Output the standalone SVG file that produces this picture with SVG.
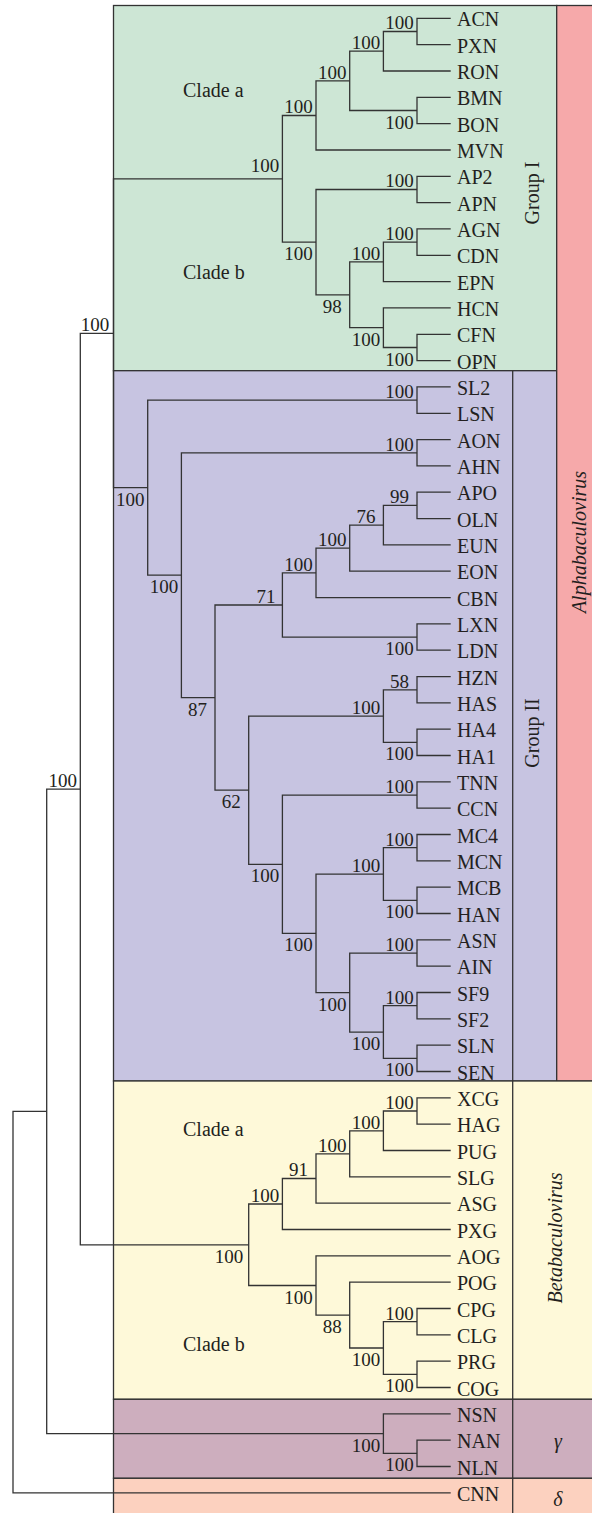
<svg xmlns="http://www.w3.org/2000/svg" width="592" height="1513" viewBox="0 0 592 1513">
<style>
.ln{fill:none;stroke:#333;stroke-width:1.3}
.box{stroke:#333;stroke-width:1.3}
.lf{font-family:"Liberation Serif","Times New Roman",serif;font-size:20px;fill:#231f20}
.bs{font-family:"Liberation Serif","Times New Roman",serif;font-size:19px;fill:#231f20;text-anchor:middle}
.grp{font-family:"Liberation Serif","Times New Roman",serif;font-size:20px;fill:#231f20;text-anchor:middle}
.it{font-style:italic}
</style>
<rect width="592" height="1513" fill="#ffffff"/>
<g id="regions">
<rect id="group1-box" class="box" x="113.5" y="5.5" width="443.2" height="365.2" fill="#cde6d5"/>
<rect id="group2-box" class="box" x="113.5" y="370.7" width="443.2" height="710.3" fill="#c7c4e1"/>
<rect id="alpha-box" class="box" x="556.7" y="5.5" width="40" height="1075.5" fill="#f6a9aa"/>
<rect id="beta-box" class="box" x="113.5" y="1081" width="483" height="318.3" fill="#fef9d9"/>
<rect id="gamma-box" class="box" x="113.5" y="1399.3" width="483" height="79" fill="#cdaebe"/>
<rect id="delta-box" class="box" x="113.5" y="1478.3" width="483" height="40" fill="#fcd1bf"/>
<path class="ln" d="M512.7 370.7 V1513"/>
</g>
<g id="region-labels">
<text class="lf" x="183" y="97">Clade a</text>
<text class="lf" x="183" y="279">Clade b</text>
<text class="lf" x="183" y="1136">Clade a</text>
<text class="lf" x="183" y="1351">Clade b</text>
<text class="grp" transform="translate(539,193) rotate(-90)">Group I</text>
<text class="grp" transform="translate(539,733) rotate(-90)">Group II</text>
<text class="grp it" transform="translate(586,542) rotate(-90)">Alphabaculovirus</text>
<text class="grp it" transform="translate(561.5,1238) rotate(-90)">Betabaculovirus</text>
<text class="grp it" x="558" y="1448">γ</text>
<text class="grp it" x="558" y="1506">δ</text>
</g>
<g id="connectors">
<path class="ln" d="M450.7 18.3 H417 V44.6 H450.7"/>
<path class="ln" d="M417 31.5 H383.4 V71 H450.7"/>
<path class="ln" d="M450.7 97.3 H417 V123.6 H450.7"/>
<path class="ln" d="M383.4 51.2 H349.7 V110.5 H417"/>
<path class="ln" d="M349.7 80.9 H316 V150 H450.7"/>
<path class="ln" d="M450.7 176.3 H417 V202.6 H450.7"/>
<path class="ln" d="M450.7 228.9 H417 V255.3 H450.7"/>
<path class="ln" d="M417 242.1 H383.4 V281.6 H450.7"/>
<path class="ln" d="M450.7 334.3 H417 V360.6 H450.7"/>
<path class="ln" d="M450.7 307.9 H383.4 V347.5 H417"/>
<path class="ln" d="M383.4 261.9 H349.7 V327.7 H383.4"/>
<path class="ln" d="M417 189.5 H316 V294.8 H349.7"/>
<path class="ln" d="M316 115.5 H282.4 V242.2 H316"/>
<path class="ln" d="M282.4 178.9 H113.5 V487.7 H147.7"/>
<path class="ln" d="M450.7 386.9 H417 V413.3 H450.7"/>
<path class="ln" d="M450.7 439.6 H417 V465.9 H450.7"/>
<path class="ln" d="M450.7 492.2 H417 V518.6 H450.7"/>
<path class="ln" d="M417 505.4 H383.4 V544.9 H450.7"/>
<path class="ln" d="M383.4 525.2 H349.7 V571.2 H450.7"/>
<path class="ln" d="M349.7 548.2 H316 V597.6 H450.7"/>
<path class="ln" d="M450.7 623.9 H417 V650.2 H450.7"/>
<path class="ln" d="M316 572.9 H282.4 V637.1 H417"/>
<path class="ln" d="M450.7 676.6 H417 V702.9 H450.7"/>
<path class="ln" d="M450.7 729.2 H417 V755.5 H450.7"/>
<path class="ln" d="M417 689.8 H383.4 V742.4 H417"/>
<path class="ln" d="M450.7 781.9 H417 V808.2 H450.7"/>
<path class="ln" d="M450.7 834.5 H417 V860.9 H450.7"/>
<path class="ln" d="M450.7 887.2 H417 V913.5 H450.7"/>
<path class="ln" d="M417 847.7 H383.4 V900.4 H417"/>
<path class="ln" d="M450.7 939.9 H417 V966.2 H450.7"/>
<path class="ln" d="M450.7 992.5 H417 V1018.8 H450.7"/>
<path class="ln" d="M450.7 1045.2 H417 V1071.5 H450.7"/>
<path class="ln" d="M417 1005.7 H383.4 V1058.4 H417"/>
<path class="ln" d="M417 953.1 H349.7 V1032.1 H383.4"/>
<path class="ln" d="M383.4 874.1 H316 V992.6 H349.7"/>
<path class="ln" d="M417 795.1 H282.4 V933.4 H316"/>
<path class="ln" d="M383.4 716.1 H248.7 V864.3 H282.4"/>
<path class="ln" d="M282.4 605 H215 V790.2 H248.7"/>
<path class="ln" d="M417 452.8 H181.4 V697.6 H215"/>
<path class="ln" d="M417 400.1 H147.7 V575.2 H181.4"/>
<path class="ln" d="M113.5 333.3 H80.3 V1244.8 H248.7"/>
<path class="ln" d="M450.7 1097.8 H417 V1124.2 H450.7"/>
<path class="ln" d="M417 1111 H383.4 V1150.5 H450.7"/>
<path class="ln" d="M383.4 1130.8 H349.7 V1176.8 H450.7"/>
<path class="ln" d="M349.7 1153.8 H316 V1203.1 H450.7"/>
<path class="ln" d="M316 1178.5 H282.4 V1229.5 H450.7"/>
<path class="ln" d="M450.7 1308.5 H417 V1334.8 H450.7"/>
<path class="ln" d="M450.7 1361.1 H417 V1387.5 H450.7"/>
<path class="ln" d="M417 1321.7 H383.4 V1374.3 H417"/>
<path class="ln" d="M450.7 1282.1 H349.7 V1348 H383.4"/>
<path class="ln" d="M450.7 1255.8 H316 V1315.1 H349.7"/>
<path class="ln" d="M282.4 1204 H248.7 V1285.5 H316"/>
<path class="ln" d="M450.7 1440.1 H417 V1466.5 H450.7"/>
<path class="ln" d="M450.7 1413.8 H383.4 V1453.3 H417"/>
<path class="ln" d="M80.3 789.1 H46.7 V1433.6 H383.4"/>
<path class="ln" d="M46.7 1111.4 H13 V1492.8 H450.7"/>
</g>
<g id="support-values">
<text class="bs" x="399.5" y="29.3">100</text>
<text class="bs" x="365.9" y="49">100</text>
<text class="bs" x="399.5" y="128.5">100</text>
<text class="bs" x="332.2" y="78.7">100</text>
<text class="bs" x="298.5" y="113.3">100</text>
<text class="bs" x="399.5" y="187.3">100</text>
<text class="bs" x="399.5" y="239.9">100</text>
<text class="bs" x="365.9" y="259.7">100</text>
<text class="bs" x="399.5" y="365.5">100</text>
<text class="bs" x="365.9" y="345.7">100</text>
<text class="bs" x="332.2" y="312.8">98</text>
<text class="bs" x="298.5" y="260.2">100</text>
<text class="bs" x="264.9" y="172">100</text>
<text class="bs" x="95" y="331">100</text>
<text class="bs" x="399.5" y="397.9">100</text>
<text class="bs" x="399.5" y="450.6">100</text>
<text class="bs" x="399.5" y="503.2">99</text>
<text class="bs" x="365.9" y="523">76</text>
<text class="bs" x="332.2" y="546">100</text>
<text class="bs" x="298.5" y="570.7">100</text>
<text class="bs" x="399.5" y="655.1">100</text>
<text class="bs" x="266" y="602.8">71</text>
<text class="bs" x="399.5" y="687.6">58</text>
<text class="bs" x="399.5" y="760.4">100</text>
<text class="bs" x="365.9" y="713.9">100</text>
<text class="bs" x="399.5" y="792.9">100</text>
<text class="bs" x="399.5" y="845.5">100</text>
<text class="bs" x="399.5" y="918.4">100</text>
<text class="bs" x="365.9" y="871.9">100</text>
<text class="bs" x="399.5" y="950.9">100</text>
<text class="bs" x="399.5" y="1003.5">100</text>
<text class="bs" x="399.5" y="1076.4">100</text>
<text class="bs" x="365.9" y="1050.1">100</text>
<text class="bs" x="332.2" y="1010.6">100</text>
<text class="bs" x="298.5" y="951.4">100</text>
<text class="bs" x="264.9" y="882.3">100</text>
<text class="bs" x="231.2" y="808.2">62</text>
<text class="bs" x="197.5" y="715.6">87</text>
<text class="bs" x="163.9" y="593.2">100</text>
<text class="bs" x="130.2" y="505.7">100</text>
<text class="bs" x="62.8" y="786.9">100</text>
<text class="bs" x="399.5" y="1108.8">100</text>
<text class="bs" x="365.9" y="1128.6">100</text>
<text class="bs" x="332.2" y="1151.6">100</text>
<text class="bs" x="298.5" y="1176.3">91</text>
<text class="bs" x="264.9" y="1201.8">100</text>
<text class="bs" x="399.5" y="1319.5">100</text>
<text class="bs" x="399.5" y="1392.3">100</text>
<text class="bs" x="365.9" y="1366">100</text>
<text class="bs" x="332.2" y="1333.1">88</text>
<text class="bs" x="298.5" y="1303.5">100</text>
<text class="bs" x="229" y="1262.8">100</text>
<text class="bs" x="399.5" y="1471.3">100</text>
<text class="bs" x="365.9" y="1451.6">100</text>
</g>
<g id="leaf-ACN"><text class="lf" x="457" y="26.3">ACN</text></g>
<g id="leaf-PXN"><text class="lf" x="457" y="52.6">PXN</text></g>
<g id="leaf-RON"><text class="lf" x="457" y="79">RON</text></g>
<g id="leaf-BMN"><text class="lf" x="457" y="105.3">BMN</text></g>
<g id="leaf-BON"><text class="lf" x="457" y="131.6">BON</text></g>
<g id="leaf-MVN"><text class="lf" x="457" y="158">MVN</text></g>
<g id="leaf-AP2"><text class="lf" x="457" y="184.3">AP2</text></g>
<g id="leaf-APN"><text class="lf" x="457" y="210.6">APN</text></g>
<g id="leaf-AGN"><text class="lf" x="457" y="236.9">AGN</text></g>
<g id="leaf-CDN"><text class="lf" x="457" y="263.3">CDN</text></g>
<g id="leaf-EPN"><text class="lf" x="457" y="289.6">EPN</text></g>
<g id="leaf-HCN"><text class="lf" x="457" y="315.9">HCN</text></g>
<g id="leaf-CFN"><text class="lf" x="457" y="342.3">CFN</text></g>
<g id="leaf-OPN"><text class="lf" x="457" y="368.6">OPN</text></g>
<g id="leaf-SL2"><text class="lf" x="457" y="394.9">SL2</text></g>
<g id="leaf-LSN"><text class="lf" x="457" y="421.3">LSN</text></g>
<g id="leaf-AON"><text class="lf" x="457" y="447.6">AON</text></g>
<g id="leaf-AHN"><text class="lf" x="457" y="473.9">AHN</text></g>
<g id="leaf-APO"><text class="lf" x="457" y="500.2">APO</text></g>
<g id="leaf-OLN"><text class="lf" x="457" y="526.6">OLN</text></g>
<g id="leaf-EUN"><text class="lf" x="457" y="552.9">EUN</text></g>
<g id="leaf-EON"><text class="lf" x="457" y="579.2">EON</text></g>
<g id="leaf-CBN"><text class="lf" x="457" y="605.6">CBN</text></g>
<g id="leaf-LXN"><text class="lf" x="457" y="631.9">LXN</text></g>
<g id="leaf-LDN"><text class="lf" x="457" y="658.2">LDN</text></g>
<g id="leaf-HZN"><text class="lf" x="457" y="684.6">HZN</text></g>
<g id="leaf-HAS"><text class="lf" x="457" y="710.9">HAS</text></g>
<g id="leaf-HA4"><text class="lf" x="457" y="737.2">HA4</text></g>
<g id="leaf-HA1"><text class="lf" x="457" y="763.5">HA1</text></g>
<g id="leaf-TNN"><text class="lf" x="457" y="789.9">TNN</text></g>
<g id="leaf-CCN"><text class="lf" x="457" y="816.2">CCN</text></g>
<g id="leaf-MC4"><text class="lf" x="457" y="842.5">MC4</text></g>
<g id="leaf-MCN"><text class="lf" x="457" y="868.9">MCN</text></g>
<g id="leaf-MCB"><text class="lf" x="457" y="895.2">MCB</text></g>
<g id="leaf-HAN"><text class="lf" x="457" y="921.5">HAN</text></g>
<g id="leaf-ASN"><text class="lf" x="457" y="947.9">ASN</text></g>
<g id="leaf-AIN"><text class="lf" x="457" y="974.2">AIN</text></g>
<g id="leaf-SF9"><text class="lf" x="457" y="1000.5">SF9</text></g>
<g id="leaf-SF2"><text class="lf" x="457" y="1026.8">SF2</text></g>
<g id="leaf-SLN"><text class="lf" x="457" y="1053.2">SLN</text></g>
<g id="leaf-SEN"><text class="lf" x="457" y="1079.5">SEN</text></g>
<g id="leaf-XCG"><text class="lf" x="457" y="1105.8">XCG</text></g>
<g id="leaf-HAG"><text class="lf" x="457" y="1132.2">HAG</text></g>
<g id="leaf-PUG"><text class="lf" x="457" y="1158.5">PUG</text></g>
<g id="leaf-SLG"><text class="lf" x="457" y="1184.8">SLG</text></g>
<g id="leaf-ASG"><text class="lf" x="457" y="1211.1">ASG</text></g>
<g id="leaf-PXG"><text class="lf" x="457" y="1237.5">PXG</text></g>
<g id="leaf-AOG"><text class="lf" x="457" y="1263.8">AOG</text></g>
<g id="leaf-POG"><text class="lf" x="457" y="1290.1">POG</text></g>
<g id="leaf-CPG"><text class="lf" x="457" y="1316.5">CPG</text></g>
<g id="leaf-CLG"><text class="lf" x="457" y="1342.8">CLG</text></g>
<g id="leaf-PRG"><text class="lf" x="457" y="1369.1">PRG</text></g>
<g id="leaf-COG"><text class="lf" x="457" y="1395.5">COG</text></g>
<g id="leaf-NSN"><text class="lf" x="457" y="1421.8">NSN</text></g>
<g id="leaf-NAN"><text class="lf" x="457" y="1448.1">NAN</text></g>
<g id="leaf-NLN"><text class="lf" x="457" y="1474.5">NLN</text></g>
<g id="leaf-CNN"><text class="lf" x="457" y="1500.8">CNN</text></g>
</svg>
